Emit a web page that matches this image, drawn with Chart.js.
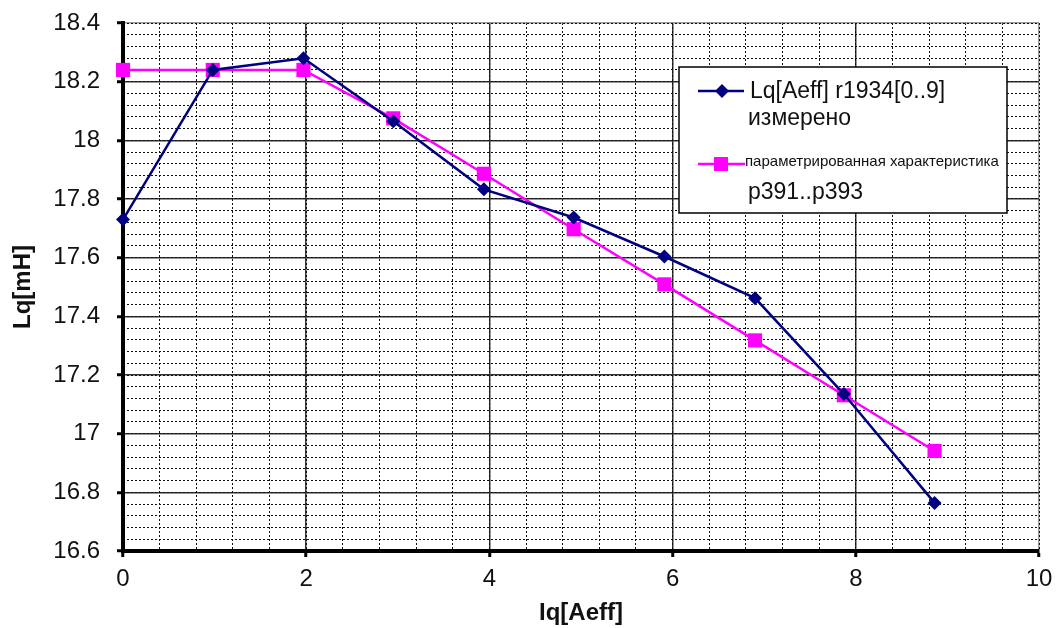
<!DOCTYPE html>
<html>
<head>
<meta charset="utf-8">
<script src="https://cdn.jsdelivr.net/npm/chart.js@4/dist/chart.umd.min.js"></script>
<style>
  html, body { margin: 0; padding: 0; background: #fff; }
  #wrap { width: 1062px; height: 628px; }
</style>
</head>
<body>
<div id="wrap"><canvas id="lqChart" width="1062" height="628"></canvas></div>
<script>
// current Iq [Aeff] for each measuring step
const iqValues = [0, 0.98, 1.97, 2.95, 3.94, 4.92, 5.91, 6.9, 7.87, 8.86];
// Lq measured (r1934)
const lqMeasured = [17.73, 18.24, 18.28, 18.065, 17.833, 17.737, 17.604, 17.462, 17.135, 16.764];
// Lq from parametrised characteristic p391..p393
const lqParam = [18.24, 18.24, 18.24, 18.075, 17.886, 17.697, 17.509, 17.318, 17.131, 16.941];

const xTickLabels = ["0", "2", "4", "6", "8", "10"];
const yTickLabels = ["16.6", "16.8", "17", "17.2", "17.4", "17.6", "17.8", "18", "18.2", "18.4"];

const legendLabels = [
  ["Lq[Aeff] r1934[0..9]", "измерено"],
  ["параметрированная характеристика", "p391..p393"],
];

const FONT = "'Liberation Sans', Arial, sans-serif";

function toPoints(xs, ys) {
  return xs.map((x, i) => ({ x: x, y: ys[i] }));
}

// legend box drawn on top of the plot area, like the original
const boxLegend = {
  id: "boxLegend",
  afterDraw(chart) {
    const ctx = chart.ctx;
    ctx.save();
    ctx.fillStyle = "#fff";
    ctx.strokeStyle = "#000";
    ctx.lineWidth = 1.5;
    ctx.fillRect(679, 67, 328, 146);
    ctx.strokeRect(679, 67, 328, 146);

    // measured series symbol
    ctx.strokeStyle = "#000080";
    ctx.lineWidth = 2.5;
    ctx.beginPath();
    ctx.moveTo(698, 91);
    ctx.lineTo(744, 91);
    ctx.stroke();
    ctx.fillStyle = "#000080";
    ctx.beginPath();
    ctx.moveTo(722, 84);
    ctx.lineTo(729, 91);
    ctx.lineTo(722, 98);
    ctx.lineTo(715, 91);
    ctx.closePath();
    ctx.fill();

    // parametrised series symbol
    ctx.strokeStyle = "#ff00ff";
    ctx.beginPath();
    ctx.moveTo(698, 164);
    ctx.lineTo(745, 164);
    ctx.stroke();
    ctx.fillStyle = "#ff00ff";
    ctx.fillRect(714, 157, 14, 14);

    ctx.fillStyle = "#111";
    ctx.textBaseline = "middle";
    ctx.textAlign = "left";
    ctx.font = "23px " + FONT;
    ctx.fillText(legendLabels[0][0], 750, 92);
    ctx.fillText(legendLabels[0][1], 748, 119);
    ctx.font = "15px " + FONT;
    ctx.fillText(legendLabels[1][0], 745, 162);
    ctx.font = "23px " + FONT;
    ctx.fillText(legendLabels[1][1], 748, 193);
    ctx.restore();
  },
};

new Chart(document.getElementById("lqChart"), {
  type: "line",
  data: {
    datasets: [
      {
        label: legendLabels[0].join(" "),
        data: toPoints(iqValues, lqMeasured),
        borderColor: "#000080",
        backgroundColor: "#000080",
        borderWidth: 2.5,
        pointStyle: "rectRot",
        pointRadius: 7,
        pointBorderWidth: 0,
        tension: 0,
        clip: false,
      },
      {
        label: legendLabels[1].join(" "),
        data: toPoints(iqValues, lqParam),
        borderColor: "#ff00ff",
        backgroundColor: "#ff00ff",
        borderWidth: 2.5,
        pointStyle: "rect",
        pointRadius: 10,
        pointBorderWidth: 0,
        tension: 0,
        clip: false,
      },
    ],
  },
  options: {
    responsive: false,
    animation: false,
    layout: { padding: { left: 0, top: 23, right: 23, bottom: 0 } },
    plugins: {
      legend: { display: false },
      tooltip: { enabled: false },
    },
    scales: {
      x: {
        type: "linear",
        position: "bottom",
        min: 0,
        max: 10,
        afterFit: (s) => { s.height = 77; },
        ticks: {
          stepSize: 2,
          color: "#111",
          padding: 8,
          font: { family: FONT, size: 24 },
          callback: (v) => xTickLabels[Math.round(v / 2)],
        },
        grid: {
          color: (c) => (c.tick && c.tick.value === 10 ? "#999" : "#333"),
          lineWidth: 1.5,
          tickColor: "#000",
          tickLength: 6,
          tickWidth: 3,
        },
        border: { color: "#000", width: 4 },
        title: {
          display: true,
          text: "Iq[Aeff]",
          color: "#111",
          padding: { top: 0, bottom: 0 },
          font: { family: FONT, size: 24, weight: "bold" },
        },
      },
      xMinor: {
        type: "linear",
        position: "bottom",
        min: 0,
        max: 10,
        ticks: { display: false, stepSize: 0.4 },
        grid: { color: "#111", lineWidth: 1, drawTicks: false, z: -1 },
        border: { display: false, dash: [2, 2] },
      },
      y: {
        type: "linear",
        position: "left",
        min: 16.6,
        max: 18.4,
        afterFit: (s) => {
          s.width = 123;
          s.paddingTop = 0;
          s.paddingBottom = 0;
        },
        ticks: {
          stepSize: 0.2,
          color: "#111",
          padding: 17,
          font: { family: FONT, size: 24 },
          callback: (v) => yTickLabels[Math.round((v - 16.6) / 0.2)],
        },
        grid: {
          color: (c) => (c.tick && Math.abs(c.tick.value - 18.4) < 1e-6 ? "#999" : "#333"),
          lineWidth: 1.5,
          tickColor: "#000",
          tickLength: 6,
          tickWidth: 3,
        },
        border: { color: "#000", width: 4 },
        title: {
          display: true,
          text: "Lq[mH]",
          color: "#111",
          padding: { top: 9, bottom: 0 },
          font: { family: FONT, size: 24, weight: "bold" },
        },
      },
      yMinor: {
        type: "linear",
        position: "left",
        min: 16.6,
        max: 18.4,
        ticks: { display: false, stepSize: 0.04 },
        grid: { color: "#111", lineWidth: 1, drawTicks: false, z: -1 },
        border: { display: false, dash: [2, 2] },
      },
    },
  },
  plugins: [boxLegend],
});
</script>
</body>
</html>
